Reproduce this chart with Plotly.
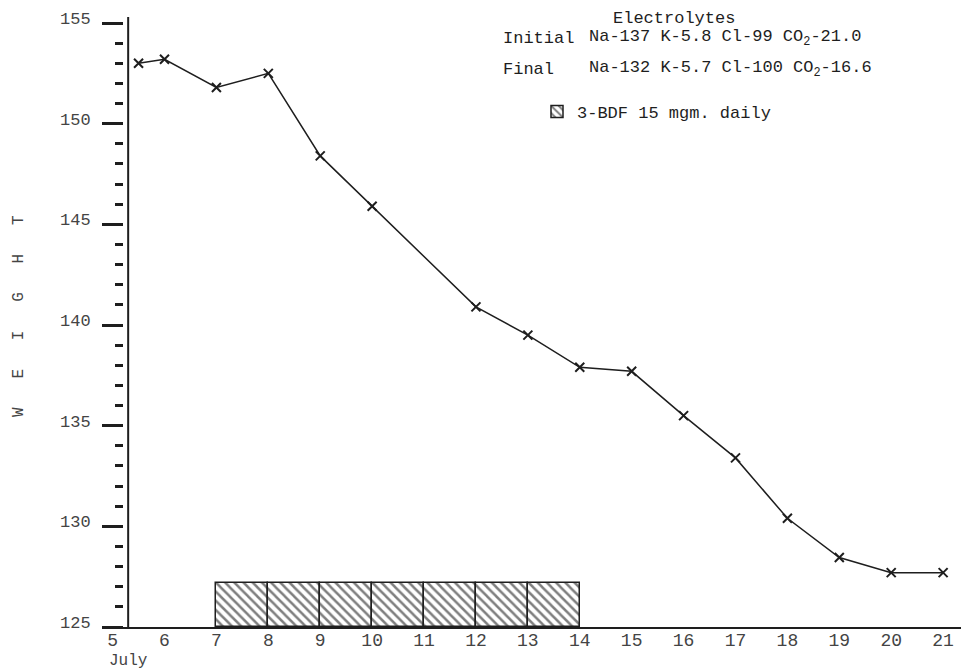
import plotly.graph_objects as go

# ---- data ----
days = [5.5, 6, 7, 8, 9, 10, 12, 13, 14, 15, 16, 17, 18, 19, 20, 21]
weight = [153.0, 153.2, 151.8, 152.5, 148.4, 145.9, 140.9, 139.5, 137.9,
          137.7, 135.5, 133.4, 130.4, 128.45, 127.7, 127.7]

dose_days = [7, 8, 9, 10, 11, 12, 13]          # each bar spans one day
dose_band_top = [127.2, 127.2, 127.2, 127.2, 127.2, 127.2, 127.2]
y_base = 125

x_ticks = list(range(5, 22))
y_axis_day = 5.3                               # where the vertical axis line is drawn

legend_label = "3-BDF 15 mgm. daily"
title_text = "Electrolytes"
row_labels = ["Initial", "Final"]
row_values = ["Na-137 K-5.8 Cl-99 CO<sub>2</sub>-21.0",
              "Na-132 K-5.7 Cl-100 CO<sub>2</sub>-16.6"]
y_title = "W   E   I   G   H   T".replace(" ", "\u00a0")
month_label = "July"

FONT = "Liberation Mono, Courier New, monospace"
INK = "#1e1e1e"
TICK_INK = "#444444"

fig = go.Figure()

fig.add_trace(go.Bar(
    x=dose_days,
    y=[t - y_base for t in dose_band_top],
    base=y_base,
    width=1,
    offset=0,
    name=legend_label,
    marker=dict(color="white",
                line=dict(color=INK, width=1.5),
                pattern=dict(shape="\\", fgcolor="#000000", bgcolor="white",
                             size=6.5, solidity=0.38)),
    showlegend=True,
))

fig.add_trace(go.Scatter(
    x=days, y=weight, mode="lines+markers",
    line=dict(color=INK, width=1.5),
    marker=dict(symbol="x-thin", size=9, line=dict(color=INK, width=2)),
    showlegend=False,
))

fig.add_shape(type="line", xref="x", yref="paper",
              x0=y_axis_day, x1=y_axis_day, y0=0, y1=1.0,
              line=dict(color=INK, width=2))

# The page body has an 8px margin; the figure is sized to fill the window.
OFF = 8
W, H = 969 - OFF, 671 - OFF
ML, MR, MT, MB = 110 - OFF, 2, 17 - OFF, H - (627 - OFF)
pw = W - ML - MR
ph = H - MT - MB

def px(xpage):
    return (xpage - OFF - ML) / pw

def py(ypage):
    return (H - MB - (ypage - OFF)) / ph

annotations = [
    dict(text=title_text, x=px(674), y=py(19), xanchor="center", yanchor="middle"),
    dict(text=row_labels[0], x=px(501), y=py(38), xanchor="left", yanchor="middle"),
    dict(text=row_values[0], x=px(587), y=py(38), xanchor="left", yanchor="middle"),
    dict(text=row_labels[1], x=px(501), y=py(69), xanchor="left", yanchor="middle"),
    dict(text=row_values[1], x=px(587), y=py(69), xanchor="left", yanchor="middle"),
]
for a in annotations:
    a.update(xref="paper", yref="paper", showarrow=False,
             font=dict(family=FONT, size=17, color=INK))

annotations.append(dict(text=y_title, xref="paper", yref="paper",
                        x=px(19), y=py(316), xanchor="center", yanchor="middle",
                        textangle=-90, showarrow=False,
                        font=dict(family=FONT, size=16, color=TICK_INK)))

annotations.append(dict(text=month_label, xref="x", x=x_ticks[0], xanchor="left",
                        xshift=-6, yref="paper", y=0, yanchor="top", yshift=-23,
                        showarrow=False, font=dict(family=FONT, size=16, color=TICK_INK)))

fig.update_layout(
    width=W, height=H,
    margin=dict(l=ML, r=MR, t=MT, b=MB, autoexpand=False),
    paper_bgcolor="white", plot_bgcolor="white",
    font=dict(family=FONT, size=18, color=TICK_INK),
    annotations=annotations,
    legend=dict(x=px(537), y=py(112), xanchor="left", yanchor="middle",
                bgcolor="rgba(0,0,0,0)", font=dict(family=FONT, size=17, color=INK)),
    xaxis=dict(range=[4.95, 21.46], tickvals=x_ticks, ticks="",
               showline=True, linecolor=INK, linewidth=2,
               showgrid=False, zeroline=False, automargin=False,
               ticklabelstandoff=-5,
               tickfont=dict(family=FONT, size=18, color=TICK_INK)),
    yaxis=dict(range=[125, 155.3], anchor="free", position=px(123),
               tick0=125, dtick=5, ticks="outside", ticklen=21, tickwidth=2.5,
               tickcolor=INK, showline=False, showgrid=False, zeroline=False,
               automargin=False, ticklabeloverflow="allow",
               minor=dict(dtick=1, ticks="outside", ticklen=8, tickwidth=3,
                          tickcolor=INK, showgrid=False),
               ticklabelstandoff=8, ticklabelshift=-5,
               tickfont=dict(family=FONT, size=17, color=TICK_INK)),
    bargap=0,
)

fig.write_html("out.html")
